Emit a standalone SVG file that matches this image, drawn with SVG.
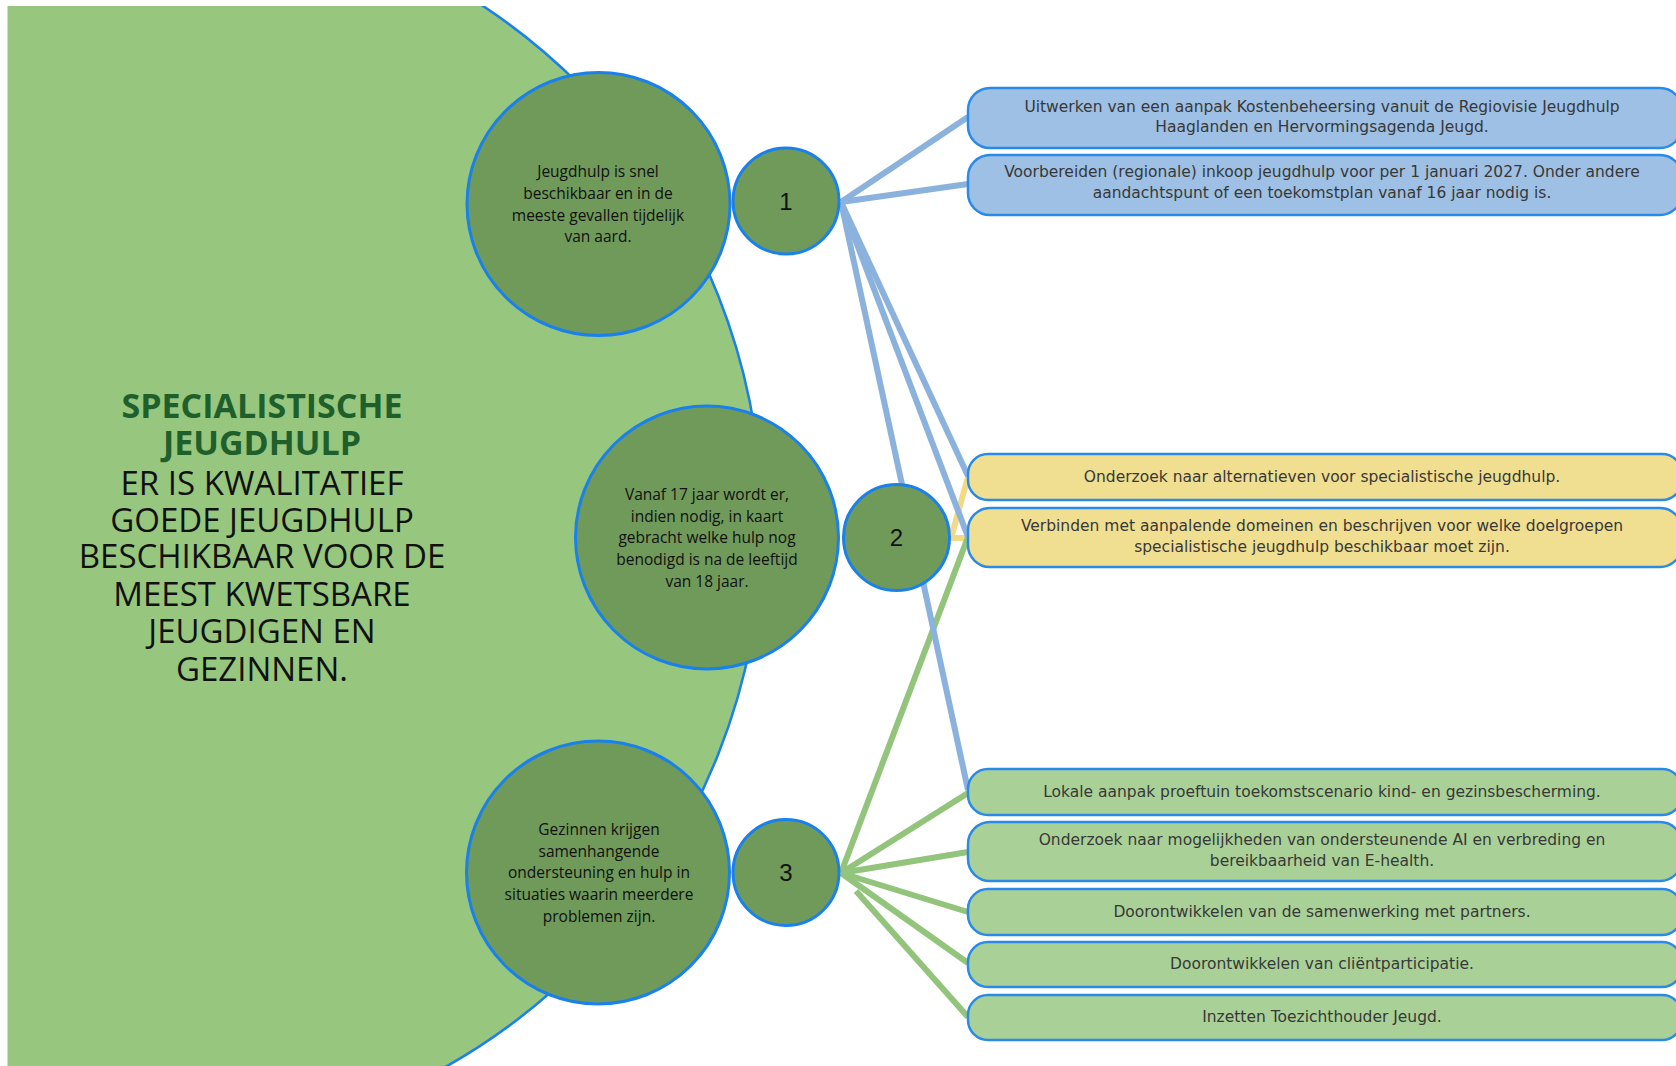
<svg xmlns="http://www.w3.org/2000/svg" width="1676" height="1066" viewBox="0 0 1676 1066">
<style>
.ctext{font-family:"Open Sans","Liberation Sans",sans-serif;font-size:15.5px;fill:#111;text-anchor:middle}
.num{font-family:"Liberation Sans","DejaVu Sans",sans-serif;font-size:24px;fill:#111;text-anchor:middle}
.btext{font-family:"DejaVu Sans","Liberation Sans",sans-serif;font-size:15.5px;fill:#383838;text-anchor:middle}
.big{fill:#6f9a5a;stroke:#1a80ec;stroke-width:3}
.box{stroke:#2a8ae8;stroke-width:2.5}
.blue{fill:#9dc0e4}
.yellow{fill:#f0df90}
.green{fill:#a9d197}
.cb{stroke:#8bb2dc;stroke-width:6;fill:none}
.cy{stroke:#f2d985;stroke-width:6;fill:none}
.cg{stroke:#93c47b;stroke-width:6;fill:none}
.t1{font-family:"Open Sans","Liberation Sans",sans-serif;font-size:33px;text-anchor:middle}
.tb{font-family:"Open Sans","Liberation Sans",sans-serif;font-size:34px;font-weight:bold;text-anchor:middle;fill:#1f5f2b}
</style>
<defs>
<clipPath id="clipL"><rect x="7.5" y="6" width="1668" height="1060"/></clipPath>
</defs>
<rect width="1676" height="1066" fill="#ffffff"/>
<g id="background-shape" clip-path="url(#clipL)">
<circle cx="140" cy="525" r="622" fill="#97c77e" stroke="#1a80ec" stroke-width="2.5"/>
</g>
<g id="title">
<text class="tb" x="262" y="418">SPECIALISTISCHE</text>
<text class="tb" x="262" y="455">JEUGDHULP</text>
<text class="t1" x="262" y="495" fill="#111">ER IS KWALITATIEF</text>
<text class="t1" x="262" y="532" fill="#111">GOEDE JEUGDHULP</text>
<text class="t1" x="262" y="568" fill="#111">BESCHIKBAAR VOOR DE</text>
<text class="t1" x="262" y="606" fill="#111">MEEST KWETSBARE</text>
<text class="t1" x="262" y="643" fill="#111">JEUGDIGEN EN</text>
<text class="t1" x="262" y="681" fill="#111">GEZINNEN.</text>
</g>
<g id="connectors">
<line class="cb" x1="841" y1="202" x2="968" y2="117"/>
<line class="cb" x1="841" y1="202" x2="968" y2="184"/>
<line class="cy" x1="951" y1="538" x2="968" y2="477"/>
<line class="cy" x1="951" y1="538" x2="968" y2="538"/>
<line class="cg" x1="841" y1="873" x2="968" y2="537"/>
<line class="cb" x1="841" y1="202" x2="968" y2="790"/>
<line class="cb" x1="841" y1="202" x2="968" y2="476"/>
<line class="cb" x1="841" y1="202" x2="968" y2="537"/>
<line class="cg" x1="841" y1="873" x2="968" y2="793"/>
<line class="cg" x1="841" y1="873" x2="968" y2="852"/>
<line class="cg" x1="841" y1="873" x2="968" y2="912"/>
<line class="cg" x1="841" y1="873" x2="968" y2="963"/>
<line class="cg" x1="856" y1="891" x2="968" y2="1017"/>
</g>
<g id="goal-1">
<circle class="big" cx="598.5" cy="204" r="131.5"/>
<text class="ctext" x="598" y="177">Jeugdhulp is snel</text>
<text class="ctext" x="598" y="199">beschikbaar en in de</text>
<text class="ctext" x="598" y="221">meeste gevallen tijdelijk</text>
<text class="ctext" x="598" y="242">van aard.</text>
</g>
<g id="num-1">
<circle class="big" cx="786" cy="201" r="53"/>
<text class="num" x="786" y="210">1</text>
</g>
<g id="goal-2">
<circle class="big" cx="707" cy="537.5" r="131.5"/>
<text class="ctext" x="707" y="500">Vanaf 17 jaar wordt er,</text>
<text class="ctext" x="707" y="522">indien nodig, in kaart</text>
<text class="ctext" x="707" y="543">gebracht welke hulp nog</text>
<text class="ctext" x="707" y="565">benodigd is na de leeftijd</text>
<text class="ctext" x="707" y="587">van 18 jaar.</text>
</g>
<g id="num-2">
<circle class="big" cx="896.5" cy="537.5" r="53"/>
<text class="num" x="896.5" y="546">2</text>
</g>
<g id="goal-3">
<circle class="big" cx="598" cy="872.5" r="131.5"/>
<text class="ctext" x="599" y="835">Gezinnen krijgen</text>
<text class="ctext" x="599" y="857">samenhangende</text>
<text class="ctext" x="599" y="878">ondersteuning en hulp in</text>
<text class="ctext" x="599" y="900">situaties waarin meerdere</text>
<text class="ctext" x="599" y="922">problemen zijn.</text>
</g>
<g id="num-3">
<circle class="big" cx="786" cy="872.5" r="53"/>
<text class="num" x="786" y="881">3</text>
</g>
<g id="box-1">
<rect class="box blue" x="968" y="88" width="714" height="60" rx="22"/>
<text class="btext" x="1322" y="112">Uitwerken van een aanpak Kostenbeheersing vanuit de Regiovisie Jeugdhulp</text>
<text class="btext" x="1322" y="132">Haaglanden en Hervormingsagenda Jeugd.</text>
</g>
<g id="box-2">
<rect class="box blue" x="968" y="155" width="714" height="60" rx="22"/>
<text class="btext" x="1322" y="177">Voorbereiden (regionale) inkoop jeugdhulp voor per 1 januari 2027. Onder andere</text>
<text class="btext" x="1322" y="198">aandachtspunt of een toekomstplan vanaf 16 jaar nodig is.</text>
</g>
<g id="box-3">
<rect class="box yellow" x="968" y="454" width="714" height="46" rx="20"/>
<text class="btext" x="1322" y="482">Onderzoek naar alternatieven voor specialistische jeugdhulp.</text>
</g>
<g id="box-4">
<rect class="box yellow" x="968" y="508" width="714" height="59" rx="22"/>
<text class="btext" x="1322" y="531">Verbinden met aanpalende domeinen en beschrijven voor welke doelgroepen</text>
<text class="btext" x="1322" y="552">specialistische jeugdhulp beschikbaar moet zijn.</text>
</g>
<g id="box-5">
<rect class="box green" x="968" y="769" width="714" height="46" rx="20"/>
<text class="btext" x="1322" y="797">Lokale aanpak proeftuin toekomstscenario kind- en gezinsbescherming.</text>
</g>
<g id="box-6">
<rect class="box green" x="968" y="822" width="714" height="59" rx="22"/>
<text class="btext" x="1322" y="845">Onderzoek naar mogelijkheden van ondersteunende AI en verbreding en</text>
<text class="btext" x="1322" y="866">bereikbaarheid van E-health.</text>
</g>
<g id="box-7">
<rect class="box green" x="968" y="889" width="714" height="46" rx="20"/>
<text class="btext" x="1322" y="917">Doorontwikkelen van de samenwerking met partners.</text>
</g>
<g id="box-8">
<rect class="box green" x="968" y="942" width="714" height="45" rx="20"/>
<text class="btext" x="1322" y="969">Doorontwikkelen van cliëntparticipatie.</text>
</g>
<g id="box-9">
<rect class="box green" x="968" y="995" width="714" height="45" rx="20"/>
<text class="btext" x="1322" y="1022">Inzetten Toezichthouder Jeugd.</text>
</g>
</svg>
